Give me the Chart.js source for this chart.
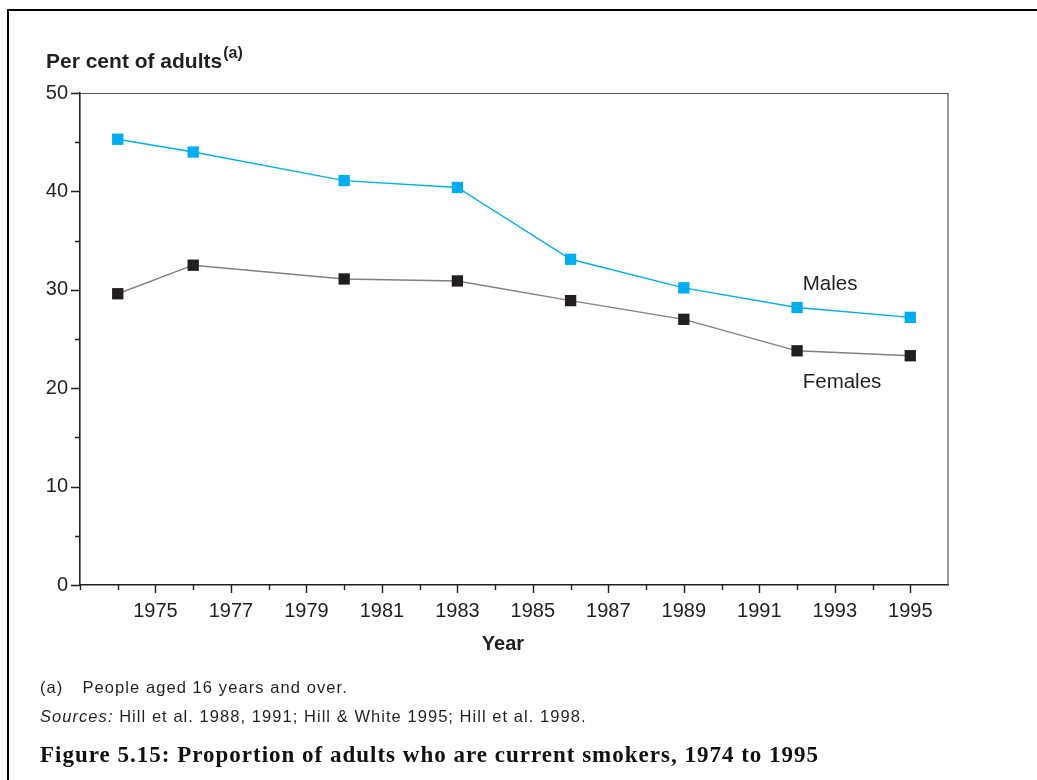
<!DOCTYPE html>
<html>
<head>
<meta charset="utf-8">
<title>Proportion of adults who are current smokers, 1974 to 1995</title>
<script src="https://cdn.jsdelivr.net/npm/chart.js@4.4.1/dist/chart.umd.min.js"></script>
<style>
  html, body { margin: 0; padding: 0; background: #fff; }
  #page {
    position: relative; width: 1037px; height: 780px; overflow: hidden;
    font-family: "Liberation Sans", Arial, sans-serif; color: #231f20;
  }
  #frame {
    position: absolute; left: 7px; top: 9px; width: 1100px; height: 900px;
    border-top: 2px solid #000; border-left: 2px solid #000;
  }
  #chart { position: absolute; left: 0; top: 0; }
  .txt { position: absolute; white-space: nowrap; line-height: 1; }
  #ytitle { left: 46px; top: 50px; font-weight: bold; font-size: 21px; }
  #ytitle sup { font-size: 16px; vertical-align: baseline; position: relative; top: -10px; margin-left: 1px; }
  #xtitle { left: 503px; top: 633px; font-weight: bold; font-size: 20px; transform: translateX(-50%); }
  #note1 { left: 40px; top: 679px; font-size: 16.5px; letter-spacing: 1.08px; }
  #note1 .gap { display: inline-block; width: 19px; }
  #note2 { left: 40px; top: 708px; font-size: 16.5px; letter-spacing: 1.05px; }
  #caption {
    left: 40px; top: 743px; font-family: "Liberation Serif", "Times New Roman", serif;
    font-weight: bold; font-size: 23px; letter-spacing: 1px; color: #111;
  }
</style>
</head>
<body>
<div id="page">
  <div id="frame"></div>
  <canvas id="chart" width="1037" height="780"></canvas>
  <div class="txt" id="ytitle">Per cent of adults<sup>(a)</sup></div>
  <div class="txt" id="xtitle">Year</div>
  <div class="txt" id="note1">(a)<span class="gap"></span>People aged 16 years and over.</div>
  <div class="txt" id="note2"><i>Sources:</i> Hill et al. 1988, 1991; Hill &amp; White 1995; Hill et al. 1998.</div>
  <div class="txt" id="caption">Figure 5.15: Proportion of adults who are current smokers, 1974 to 1995</div>
</div>
<script>
// Survey years and per cent of adults who smoke
const years   = [1974, 1976, 1980, 1983, 1986, 1989, 1992, 1995];
const males   = [45.3, 44.0, 41.1, 40.4, 33.1, 30.2, 28.2, 27.2];
const females = [29.6, 32.5, 31.1, 30.9, 28.9, 27.0, 23.8, 23.3];

// Axis ticks
const xTickLabels = [1975, 1977, 1979, 1981, 1983, 1985, 1987, 1989, 1991, 1993, 1995];
const yTickLabels = [0, 10, 20, 30, 40, 50];

// In-plot series labels: [text, year, value at baseline]
const seriesLabels = [
  ['Males',   1992.15, 30.0],
  ['Females', 1992.15, 20.0]
];

const INK = '#231f20';
const FONT = '"Liberation Sans", Arial, sans-serif';

const toPoints = vals => years.map((x, i) => ({ x, y: vals[i] }));

// Outward tick marks: long at labelled values, short in between; plus the open frame
const axisDecor = {
  id: 'axisDecor',
  beforeDatasetsDraw(chart) {
    const { ctx, chartArea: a } = chart;
    ctx.save();
    ctx.strokeStyle = '#555';
    ctx.lineWidth = 1.2;
    ctx.beginPath();
    ctx.moveTo(a.left, a.top + 0.5);
    ctx.lineTo(a.right, a.top + 0.5);
    ctx.lineTo(a.right, a.bottom);
    ctx.stroke();
    ctx.restore();
  },
  afterDraw(chart) {
    const { ctx, chartArea: a, scales: { x, y } } = chart;
    ctx.save();
    ctx.strokeStyle = INK;
    ctx.lineWidth = 1.4;
    ctx.beginPath();
    x.ticks.forEach(t => {
      if (t.value > xTickLabels[xTickLabels.length - 1]) return;
      const px = Math.round(x.getPixelForValue(t.value)) + 0.5;
      const len = xTickLabels.includes(t.value) ? 8 : 5;
      ctx.moveTo(px, a.bottom);
      ctx.lineTo(px, a.bottom + len);
    });
    y.ticks.forEach(t => {
      const py = Math.round(y.getPixelForValue(t.value)) + 0.5;
      const len = yTickLabels.includes(t.value) ? 9 : 5;
      ctx.moveTo(a.left, py);
      ctx.lineTo(a.left - len, py);
    });
    ctx.stroke();

    ctx.fillStyle = INK;
    ctx.font = '20.5px ' + FONT;
    ctx.textBaseline = 'alphabetic';
    ctx.textAlign = 'left';
    seriesLabels.forEach(([text, xv, yv]) => {
      ctx.fillText(text, x.getPixelForValue(xv), y.getPixelForValue(yv));
    });
    ctx.restore();
  }
};

new Chart(document.getElementById('chart'), {
  type: 'line',
  data: {
    datasets: [
      {
        label: 'Males',
        data: toPoints(males),
        borderColor: '#00aeef',
        borderWidth: 1.4,
        pointStyle: 'rect',
        pointRadius: 8,
        pointBackgroundColor: '#00aeef',
        pointBorderWidth: 0,
        tension: 0
      },
      {
        label: 'Females',
        data: toPoints(females),
        borderColor: '#808080',
        borderWidth: 1.4,
        pointStyle: 'rect',
        pointRadius: 8,
        pointBackgroundColor: INK,
        pointBorderWidth: 0,
        tension: 0
      }
    ]
  },
  options: {
    responsive: false,
    devicePixelRatio: 1,
    animation: false,
    layout: { padding: { left: 0, top: 93, right: 89, bottom: 135 } },
    plugins: { legend: { display: false }, tooltip: { enabled: false } },
    scales: {
      x: {
        type: 'linear',
        min: 1973,
        max: 1996,
        afterFit: s => { s.height = 60; },
        ticks: {
          stepSize: 1,
          autoSkip: false,
          maxRotation: 0,
          padding: 14,
          color: INK,
          font: { family: FONT, size: 20 },
          callback: v => xTickLabels.includes(v) ? String(v) : ''
        },
        grid: { display: false, drawTicks: false },
        border: { display: true, color: INK, width: 1.6 }
      },
      y: {
        min: 0,
        max: 50,
        afterFit: s => { s.width = 80; },
        ticks: {
          stepSize: 5,
          padding: 12,
          color: INK,
          font: { family: FONT, size: 20 },
          callback: v => yTickLabels.includes(v) ? String(v) : ''
        },
        grid: { display: false, drawTicks: false },
        border: { display: true, color: INK, width: 1.6 }
      }
    }
  },
  plugins: [axisDecor]
});
</script>
</body>
</html>
